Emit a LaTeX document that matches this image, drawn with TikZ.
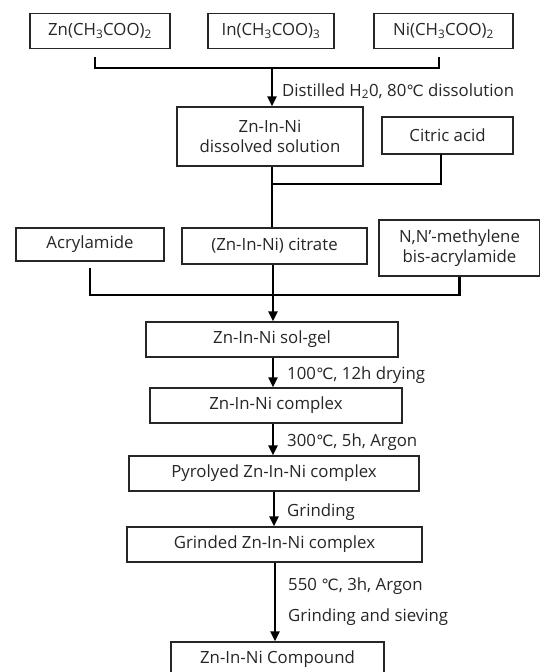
\documentclass[tikz,border=0pt]{standalone}
\usepackage{fontspec}
\setmainfont{Open Sans}
\newfontfamily\dejavu{DejaVu Sans}
\usetikzlibrary{arrows.meta}
\newcommand\dC{{\dejavu\fontsize{15.5}{20}\selectfont ℃}}
\begin{document}
\begin{tikzpicture}[x=1pt,y=-1pt,
  box/.style={draw=black!85, line width=1.2pt, inner sep=0pt, align=center, text=black!85,
    font=\fontsize{16.8}{20.5}\selectfont},
  lab/.style={anchor=west, inner sep=0pt, text=black!85, font=\fontsize{16.8}{20}\selectfont},
  conn/.style={line width=2.2pt},
  arr/.style={line width=2.2pt, -{Triangle[width=9pt,length=10pt]}}]
\useasboundingbox (0,0) rectangle (540,672);
\fill[white] (0,0) rectangle (540,672);
% top row
\node[box, minimum width=140pt, minimum height=35pt] (zn) at (100,31) {Zn(CH\textsubscript{3}COO)\textsubscript{2}};
\node[box, minimum width=126pt, minimum height=35pt] (in) at (271,31) {In(CH\textsubscript{3}COO)\textsubscript{3}};
\node[box, minimum width=139pt, minimum height=35pt] (ni) at (443.5,31) {Ni(CH\textsubscript{3}COO)\textsubscript{2}};
\coordinate (zs) at (95,57);
\coordinate (ns) at (439,57);
\coordinate (j1) at (272,68);
\draw[conn] (zs) |- (j1) -| (ns);
% dissolved solution
\node[box, minimum width=186pt, minimum height=59pt] (sol) at (270,136.5) {Zn-In-Ni\\dissolved solution};
\node[box, minimum width=131pt, minimum height=37pt] (cit) at (447.5,135.5) {Citric acid};
\draw[arr] (j1) -- (sol.north -| j1);
\node[lab] (l1) at (282,91) {Distilled H\textsubscript{2}0, 80\dC{} dissolution};
% citrate row
\node[box, minimum width=148pt, minimum height=33pt] (acr) at (90,244.5) {Acrylamide};
\node[box, minimum width=185pt, minimum height=36pt] (citr) at (274.5,246) {(Zn-In-Ni) citrate};
\node[box, minimum width=161pt, minimum height=56pt] (nn) at (459.5,248) {N,N'-methylene\\bis-acrylamide};
\coordinate (j2) at (272,184);
\coordinate (cs) at (441,154);
\draw[conn] (sol.south -| j2) -- (citr.north -| j2);
\draw[conn] (j2) -| (cs);
% sol-gel
\node[box, minimum width=252pt, minimum height=35pt] (solgel) at (272,339.5) {Zn-In-Ni sol-gel};
\coordinate (as) at (90,268);
\coordinate (j3) at (273,295);
\draw[conn] (as) |- (j3) -| (nn.south);
\draw[arr] (citr.south -| j3) -- (solgel.north -| j3);
% lower chain
\node[box, minimum width=252pt, minimum height=35pt] (cplx) at (276,405.5) {Zn-In-Ni complex};
\node[box, minimum width=290pt, minimum height=35pt] (pyro) at (274,473.5) {Pyrolyed Zn-In-Ni complex};
\node[box, minimum width=295pt, minimum height=35pt] (grind) at (274.5,544.5) {Grinded Zn-In-Ni complex};
\node[box, minimum width=213pt, minimum height=35pt] (comp) at (277.5,659.5) {Zn-In-Ni Compound};
\draw[arr] (solgel.south -| j3) -- (cplx.north -| j3);
\draw[arr] (cplx.south -| j3) -- (pyro.north -| j3);
\draw[arr] ([xshift=1pt]pyro.south -| j3) -- ([xshift=1pt]grind.north -| j3);
\draw[arr] ([xshift=2pt]grind.south -| j3) -- ([xshift=2pt]comp.north -| j3);
\node[lab] (l2) at (287,375) {100\dC, 12h drying};
\node[lab] (l3) at (287,442) {300\dC, 5h, Argon};
\node[lab] (l4) at (287,512) {Grinding};
\node[lab] (l5) at (288,586) {550 \dC, 3h, Argon};
\node[lab] (l6) at (288,617) {Grinding and sieving};
\end{tikzpicture}
\end{document}
